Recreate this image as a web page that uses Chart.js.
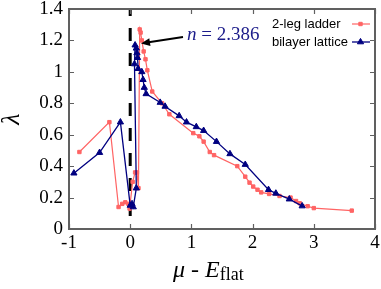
<!DOCTYPE html>
<html>
<head>
<meta charset="utf-8">
<script src="https://cdn.jsdelivr.net/npm/chart.js@4/dist/chart.umd.min.js"></script>
<style>
	html, body { margin: 0; padding: 0; background: #fff; }
</style>
</head>
<body>
<canvas id="lambdaChart" width="381" height="289"></canvas>
<script>
// 2-leg ladder (red squares)
const ladderX = [-0.83, -0.34, -0.19, -0.13, -0.08, -0.03, -0.01, 0.04, 0.08, 0.11, 0.135, 0.155, 0.17, 0.19, 0.22, 0.25, 0.28, 0.36, 0.52, 0.64, 1.03, 1.13, 1.2, 1.3, 1.37, 1.75, 1.88, 1.95, 2.01, 2.08, 2.14, 2.27, 2.44, 2.62, 2.71, 2.77, 2.9, 3.0, 3.62];
const ladderY = [0.49, 0.68, 0.14, 0.16, 0.17, 0.16, 0.13, 0.3, 0.36, 0.36, 0.26, 1.27, 1.25, 1.2, 1.13, 1.08, 1.01, 0.875, 0.8, 0.73, 0.61, 0.59, 0.556, 0.49, 0.47, 0.4, 0.333, 0.295, 0.27, 0.25, 0.233, 0.223, 0.21, 0.2, 0.178, 0.164, 0.145, 0.133, 0.117];

// bilayer lattice (navy triangles)
const bilayerX = [-0.92, -0.5, -0.16, 0.0, 0.03, 0.05, 0.1, 0.07, 0.08, 0.1, 0.11, 0.12, 0.13, 0.19, 0.21, 0.23, 0.26, 0.49, 0.57, 0.8, 0.92, 1.08, 1.2, 1.41, 1.63, 1.88, 2.26, 2.38, 2.6, 2.81];
const bilayerY = [0.355, 0.486, 0.68, 0.15, 0.16, 0.14, 0.26, 1.05, 1.17, 1.15, 1.12, 1.09, 1.02, 1.0, 0.95, 0.9, 0.86, 0.805, 0.78, 0.72, 0.68, 0.65, 0.626, 0.556, 0.478, 0.41, 0.25, 0.227, 0.19, 0.146];

// E_flat reference line
const flatX = [0, 0];
const flatY = [1.4, 0];

const xTicks = [-1, 0, 1, 2, 3, 4];
const yTicks = [0, 0.2, 0.4, 0.6, 0.8, 1, 1.2, 1.4];
const seriesLabels = ["2-leg ladder", "bilayer lattice"];
const fillingValue = "2.386";

function toPoints(xs, ys) {
	return xs.map((x, i) => ({ x: x, y: ys[i] }));
}

const serif = "'Liberation Serif', 'Times New Roman', serif";
const sans = "'Liberation Sans', Arial, sans-serif";

Chart.defaults.font.family = serif;

const decorations = {
	id: "decorations",
	afterDraw(chart) {
		const ctx = chart.ctx;
		const a = chart.chartArea;
		const xs = chart.scales.x;
		const ys = chart.scales.y;
		ctx.save();

		// frame with inward ticks on all four sides
		ctx.strokeStyle = "#606060";
		ctx.lineWidth = 2;
		ctx.strokeRect(a.left, a.top, a.right - a.left, a.bottom - a.top);
		ctx.lineWidth = 1.2;
		ctx.beginPath();
		xTicks.forEach(function (t) {
			const px = Math.round(xs.getPixelForValue(t)) + 0.5;
			ctx.moveTo(px, a.bottom); ctx.lineTo(px, a.bottom - 5);
			ctx.moveTo(px, a.top); ctx.lineTo(px, a.top + 5);
		});
		yTicks.forEach(function (t) {
			const py = Math.round(ys.getPixelForValue(t)) + 0.5;
			ctx.moveTo(a.left, py); ctx.lineTo(a.left + 5, py);
			ctx.moveTo(a.right, py); ctx.lineTo(a.right - 5, py);
		});
		ctx.stroke();

		// legend
		ctx.font = "13px " + sans;
		ctx.textBaseline = "middle";
		ctx.textAlign = "left";
		chart.data.datasets.slice(0, 2).forEach(function (ds, i) {
			const y = 24 + i * 18;
			ctx.fillStyle = "#000";
			ctx.fillText(ds.label, 272, y);
			ctx.strokeStyle = ds.borderColor;
			ctx.lineWidth = ds.borderWidth;
			ctx.beginPath();
			ctx.moveTo(352, y); ctx.lineTo(370, y);
			ctx.stroke();
			ctx.fillStyle = ds.pointBackgroundColor;
			ctx.strokeStyle = ds.pointBorderColor;
			ctx.lineWidth = 1;
			Chart.helpers.drawPoint(ctx, { pointStyle: ds.pointStyle, radius: ds.pointRadius, borderWidth: 1, rotation: 0 }, 360.5, y);
		});

		// arrow and annotation
		ctx.strokeStyle = "#000";
		ctx.fillStyle = "#000";
		ctx.lineWidth = 2;
		const x0 = 183, y0 = 37, x1 = 141, y1 = 43.5;
		const ang = Math.atan2(y1 - y0, x1 - x0);
		ctx.beginPath();
		ctx.moveTo(x0, y0);
		ctx.lineTo(x1 - Math.cos(ang) * 6, y1 - Math.sin(ang) * 6);
		ctx.stroke();
		ctx.beginPath();
		ctx.moveTo(x1, y1);
		ctx.lineTo(x1 - Math.cos(ang) * 9 - Math.sin(ang) * 4, y1 - Math.sin(ang) * 9 + Math.cos(ang) * 4);
		ctx.lineTo(x1 - Math.cos(ang) * 9 + Math.sin(ang) * 4, y1 - Math.sin(ang) * 9 - Math.cos(ang) * 4);
		ctx.closePath();
		ctx.fill();

		ctx.fillStyle = "#1c1c8a";
		ctx.textBaseline = "alphabetic";
		ctx.font = "italic 19px " + serif;
		ctx.fillText("n", 187, 40);
		let w = ctx.measureText("n").width;
		ctx.font = "19px " + serif;
		ctx.fillText(" = " + fillingValue, 187 + w, 40);

		// x title: mu - E_flat
		ctx.fillStyle = "#000";
		let x = 173;
		const base = 277;
		ctx.font = "italic 24px " + serif;
		ctx.fillText("\u03bc", x, base);
		x += ctx.measureText("\u03bc").width;
		ctx.font = "24px " + serif;
		ctx.fillText(" - ", x, base);
		x += ctx.measureText(" - ").width;
		ctx.font = "italic 24px " + serif;
		ctx.fillText("E", x, base);
		x += ctx.measureText("E").width;
		ctx.font = "18px " + serif;
		ctx.fillText("flat", x, base + 3);

		// y title: lambda
		ctx.translate(12, 119);
		ctx.rotate(-Math.PI / 2);
		ctx.font = "italic 26px " + serif;
		ctx.textAlign = "center";
		ctx.textBaseline = "middle";
		ctx.fillText("\u03bb", 0, 0);

		ctx.restore();
	},
};

const ctx = document.getElementById("lambdaChart").getContext("2d");

new Chart(ctx, {
	type: "scatter",
	data: {
		datasets: [
			{
				label: seriesLabels[0],
				data: toPoints(ladderX, ladderY),
				showLine: true,
				borderColor: "#ff6464",
				backgroundColor: "#ff6464",
				borderWidth: 1.2,
				pointStyle: "rect",
				pointRadius: 2.4,
				pointBorderWidth: 1,
				pointBackgroundColor: "#ff6464",
				pointBorderColor: "#ff6464",
				order: 1,
			},
			{
				label: seriesLabels[1],
				data: toPoints(bilayerX, bilayerY),
				showLine: true,
				borderColor: "#000080",
				backgroundColor: "#000080",
				borderWidth: 1.3,
				pointStyle: "triangle",
				pointRadius: 3.6,
				pointBorderWidth: 1,
				pointBackgroundColor: "#000080",
				pointBorderColor: "#000080",
				order: 0,
			},
			{
				label: "E_flat",
				data: toPoints(flatX, flatY),
				showLine: true,
				borderColor: "#000",
				borderWidth: 3,
				borderDash: [13, 12],
				borderDashOffset: 6,
				pointRadius: 0,
				order: 3,
			},
		],
	},
	options: {
		responsive: false,
		animation: false,
		devicePixelRatio: 1,
		layout: {
			padding: { top: 9, right: 6, left: 0, bottom: 0 },
		},
		plugins: {
			legend: { display: false },
			tooltip: { enabled: false },
		},
		scales: {
			x: {
				type: "linear",
				min: -1,
				max: 4,
				afterBuildTicks: function (scale) {
					scale.ticks = xTicks.map((v) => ({ value: v }));
				},
				afterFit: function (scale) {
					scale.height = 60;
					scale.paddingLeft = 0;
					scale.paddingRight = 0;
				},
				grid: { display: false, drawTicks: false },
				border: { display: false },
				ticks: {
					color: "#000",
					padding: 3,
					maxRotation: 0,
					font: { family: "Liberation Serif", size: 19 },
					callback: (v) => String(v),
				},
			},
			y: {
				type: "linear",
				min: 0,
				max: 1.4,
				afterBuildTicks: function (scale) {
					scale.ticks = yTicks.map((v) => ({ value: v }));
				},
				afterFit: function (scale) {
					scale.width = 69;
					scale.paddingTop = 0;
					scale.paddingBottom = 0;
				},
				grid: { display: false, drawTicks: false },
				border: { display: false },
				ticks: {
					color: "#000",
					padding: 6,
					font: { family: "Liberation Serif", size: 19 },
					callback: (v) => String(v),
				},
			},
		},
	},
	plugins: [decorations],
});
</script>
</body>
</html>
